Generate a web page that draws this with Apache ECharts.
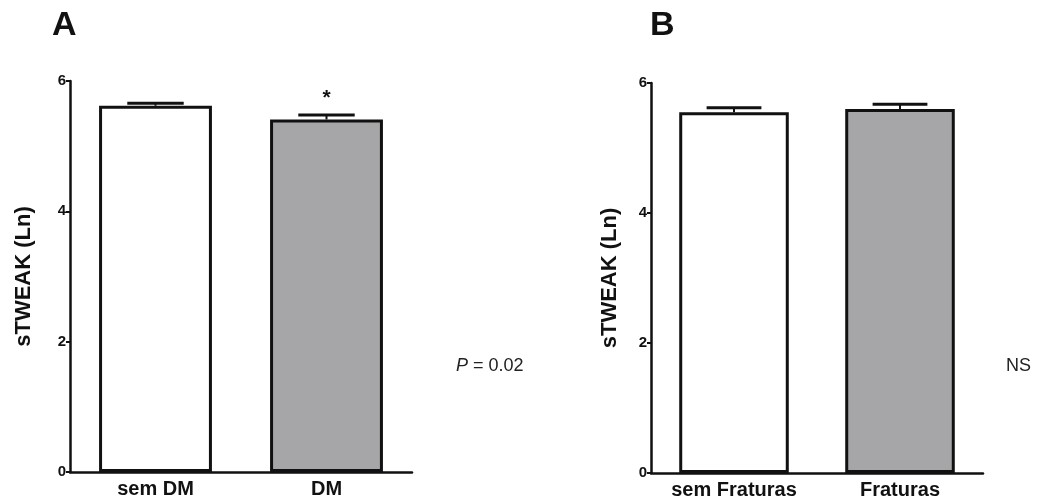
<!DOCTYPE html>
<html>
<head>
<meta charset="utf-8">
<script src="https://cdn.jsdelivr.net/npm/echarts@6/dist/echarts.min.js"></script>
<style>
html,body{margin:0;padding:0;background:#fff;}
#c{width:1056px;height:504px;}
</style>
</head>
<body>
<div id="c"></div>
<script>
// Panel A data
const catsA = ['sem DM', 'DM'];
const meansA = [5.62, 5.41];
const semA = [0.04, 0.07];
const sigA = ['', '*'];
// Panel B data
const catsB = ['sem Fraturas', 'Fraturas'];
const meansB = [5.55, 5.60];
const semB = [0.07, 0.075];
const sigB = ['', ''];
const yTicks = [0, 2, 4, 6];
const fills = ['#ffffff', '#a6a6a8'];

const chart = echarts.init(document.getElementById('c'));
const FONT = 'Liberation Sans, Arial, sans-serif';

function yAxisDef(gi, gap) {
  return {
    type: 'value', gridIndex: gi, min: yTicks[0], max: yTicks[yTicks.length - 1], interval: 2,
    name: 'sTWEAK (Ln)', nameLocation: 'middle', nameGap: gap,
    nameTextStyle: { fontFamily: FONT, fontWeight: 'bold', fontSize: 22, color: '#111' },
    axisLine: { show: true, lineStyle: { color: '#111', width: 2.5 } },
    axisTick: { show: true, length: 4, lineStyle: { color: '#111', width: 2 } },
    axisLabel: { fontFamily: FONT, fontWeight: 'bold', fontSize: 15, color: '#111', margin: 4 },
    splitLine: { show: false }
  };
}
function xAxisDef(gi, cats) {
  return {
    type: 'category', gridIndex: gi, data: cats,
    axisLine: { show: true, lineStyle: { color: '#111', width: 2.5 } },
    axisTick: { show: false },
    axisLabel: { fontFamily: FONT, fontWeight: 'bold', fontSize: 20, color: '#111', margin: 7 }
  };
}
function barSeries(gi, means) {
  return {
    type: 'bar', xAxisIndex: gi, yAxisIndex: gi, barWidth: '66%',
    data: means.map((v, i) => ({ value: v, itemStyle: { color: fills[i] } })),
    itemStyle: { borderColor: '#111', borderWidth: 3 },
    z: 2
  };
}
function errSeries(gi, means, sems, sig) {
  return {
    type: 'custom', xAxisIndex: gi, yAxisIndex: gi, z: 5,
    data: means.map((v, i) => [i, v, v + sems[i], sig[i]]),
    renderItem: function (params, api) {
      const x = api.value(0);
      const p0 = api.coord([x, api.value(1)]);
      const p1 = api.coord([x, api.value(2)]);
      const bw = api.size([1, 0])[0] * 0.66;
      const hw = bw * 0.25;
      const children = [
        { type: 'line', shape: { x1: p0[0], y1: p0[1], x2: p1[0], y2: p1[1] }, style: { stroke: '#111', lineWidth: 2 } },
        { type: 'line', shape: { x1: p1[0] - hw, y1: p1[1], x2: p1[0] + hw, y2: p1[1] }, style: { stroke: '#111', lineWidth: 3 } }
      ];
      const s = api.value(3);
      if (s) {
        children.push({ type: 'text', x: p1[0], y: p1[1] - 6, style: { text: s, fontFamily: FONT, fontWeight: 'bold', fontSize: 21, fill: '#111', align: 'center', verticalAlign: 'bottom' } });
      }
      return { type: 'group', children: children };
    }
  };
}

chart.setOption({
  animation: false,
  backgroundColor: '#fff',
  grid: [
    { left: 70, top: 81, width: 342, height: 391 },
    { left: 651, top: 83, width: 332, height: 390 }
  ],
  xAxis: [xAxisDef(0, catsA), xAxisDef(1, catsB)],
  yAxis: [yAxisDef(0, 35), yAxisDef(1, 30)],
  series: [
    barSeries(0, meansA), errSeries(0, meansA, semA, sigA),
    barSeries(1, meansB), errSeries(1, meansB, semB, sigB)
  ],
  graphic: [
    { type: 'text', left: 52, top: 9, style: { text: 'A', fontFamily: FONT, fontWeight: 'bold', fontSize: 34, fill: '#111' } },
    { type: 'text', left: 650, top: 9, style: { text: 'B', fontFamily: FONT, fontWeight: 'bold', fontSize: 34, fill: '#111' } },
    { type: 'text', left: 456, top: 357, style: { text: '{i|P} = 0.02', fontFamily: FONT, fontSize: 18, fill: '#222', rich: { i: { fontStyle: 'italic', fontFamily: FONT, fontSize: 18, fill: '#222' } } } },
    { type: 'text', left: 1006, top: 357, style: { text: 'NS', fontFamily: FONT, fontSize: 18, fill: '#222' } }
  ]
});
</script>
</body>
</html>
